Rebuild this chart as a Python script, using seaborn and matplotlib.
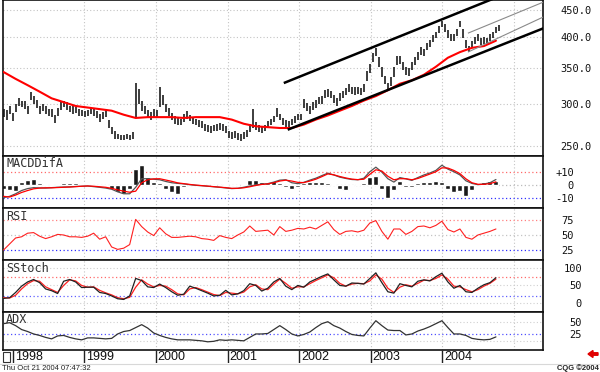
import numpy as np
import pandas as pd
import matplotlib
matplotlib.use("Agg")
import matplotlib.pyplot as plt
from matplotlib.patches import Rectangle
from matplotlib.lines import Line2D
from matplotlib.ticker import NullLocator, NullFormatter
import seaborn as sns

# ---------------- data ----------------
# half-monthly price bars, Nov 1997 .. Oct 2004
highs = [293, 292, 297, 288, 299, 307, 304, 303, 297, 315,
         310, 305, 297, 299, 297, 293, 293, 286, 294, 302,
         304, 302, 297, 297, 296, 293, 292, 291, 292, 295,
         293, 290, 287, 289, 293, 280, 271, 266, 263, 262,
         262, 263, 262, 265, 328, 320, 303, 297, 292, 289,
         293, 292, 322, 312, 299, 294, 288, 284, 282, 281,
         287, 291, 286, 283, 281, 279, 278, 275, 273, 272,
         274, 275, 276, 275, 272, 267, 265, 267, 264, 263,
         265, 268, 275, 293, 277, 273, 272, 274, 278, 281,
         285, 295, 287, 282, 279, 278, 281, 284, 287, 287,
         306, 301, 297, 302, 305, 309, 310, 318, 319, 317,
         311, 307, 314, 317, 321, 326, 323, 322, 323, 321,
         327, 345, 356, 373, 382, 367, 351, 338, 328, 336,
         351, 369, 368, 359, 352, 350, 359, 367, 375, 383,
         380, 390, 396, 403, 410, 419, 429, 423, 413, 405,
         406, 414, 429, 414, 396, 385, 393, 401, 405, 398,
         401, 398, 406, 410, 418, 421]
lows = [283, 280, 287, 278, 289, 297, 296, 293, 287, 305,
        300, 295, 287, 291, 287, 285, 283, 276, 284, 292,
        296, 292, 289, 287, 288, 285, 284, 283, 284, 287,
        285, 282, 277, 281, 283, 270, 263, 258, 257, 256,
        256, 257, 256, 257, 282, 300, 291, 287, 282, 280,
        283, 282, 296, 298, 289, 284, 279, 275, 274, 273,
        277, 281, 278, 275, 273, 271, 270, 267, 265, 264,
        266, 267, 268, 267, 264, 259, 257, 259, 256, 255,
        257, 260, 265, 270, 268, 265, 264, 266, 270, 273,
        277, 283, 279, 274, 271, 270, 273, 276, 279, 279,
        294, 291, 287, 292, 295, 299, 300, 308, 309, 307,
        301, 297, 304, 307, 311, 316, 313, 312, 313, 311,
        315, 331, 342, 359, 368, 351, 337, 326, 320, 324,
        337, 355, 356, 347, 340, 338, 347, 355, 363, 371,
        368, 378, 384, 391, 398, 407, 418, 409, 399, 393,
        394, 402, 418, 398, 382, 375, 381, 389, 393, 386,
        389, 386, 394, 398, 407, 411]

# moving average (every two months)
ma_values = [344, 334, 325, 316, 307, 302, 297, 295, 293, 291,
             286, 282, 283, 283, 283, 282, 283, 283, 283, 280,
             275, 272, 271, 270, 270, 274, 280, 285, 291, 297,
             304, 310, 318, 327, 332, 340, 352, 366, 375, 382,
             385, 394]

# monthly indicators
macd = [-10, -9, -7, -4.5, -3, -2.3, -2.5, -2.6, -2.3, -2,
        -1.8, -1.7, -1.4, -1.2, -1, -1.5, -2, -2.6, -3.5, -5.5,
        -7, -7, -2, 4.6, 4.6, 4.2, 3.8, 2.5, 1.5, 1,
        0.6, 0, -0.5, -0.8, -1.2, -1.6, -2, -2.5, -3, -2.8,
        -2, -1, -0.2, 0.4, 0.8, 2, 3.5, 3.8, 1.5, 0.8,
        1.8, 3.5, 5, 7, 8.9, 7.5, 5.8, 4.8, 4, 3.8,
        5, 10, 13.5, 9.7, 4.6, 2, 5.5, 4.5, 3.3, 5.5,
        7.5, 9, 11, 15, 12, 10, 7.5, 3, 1, 0,
        0.5, 1.5, 4]
signal = [-9, -9.5, -8, -6, -4.5, -3.2, -2.6, -2.4, -2.4, -2.2,
          -2, -1.8, -1.5, -1.2, -1, -1.2, -1.6, -2, -2.8, -4,
          -5, -5.8, -5, 1.5, 3.8, 4.5, 4.6, 3.6, 2.6, 1.4,
          0.8, 0.2, -0.3, -0.7, -1.1, -1.5, -1.9, -2.3, -2.8, -2.8,
          -2.4, -1.6, -0.6, 0.2, 0.6, 1.5, 2.8, 3.5, 2.8, 1.8,
          1.6, 2.8, 4.2, 6.2, 8.3, 7.6, 6.3, 5.2, 4.3, 3.9,
          4.2, 8, 11.5, 10.5, 6.5, 3.8, 4.6, 4.6, 3.8, 4.8,
          6.5, 8.2, 10, 13, 12.8, 11, 8.5, 4.5, 1.5, 0.3,
          0.3, 0.8, 2.2]
macd_hist = [-3, -4, -4.5, 2, 3.5, 4.5, 1, 0.3, 0.5, 0.8,
             1.5, 1.5, 1, 0.5, 0.3, -0.5, -1, -1, -3, -6,
             -7, -3, 12, 15, 6, 2, 1.5, -3, -6, -7,
             -2, -0.5, 0.5, 0.5, -0.3, -0.5, -0.5, 0.3, -0.5, -0.3,
             0.5, 3.5, 4, 2, 1.5, 2.5, 1.5, -2, -3, -2,
             1.5, 2, 2, 2, 1.5, 0.5, -3, -4, -1, 0.5,
             1, 6, 7, -3, -10, -4, 2.5, -1.5, -2, 1.5,
             2, 2, 2.5, 2, -3, -6, -5, -9, -4, 1,
             2, 2.5, 3]
rsi = [25, 35, 45, 47, 53, 54, 48, 44, 47, 51,
       50, 47, 47, 46, 48, 53, 43, 47, 30, 26,
       28, 34, 76, 64, 55, 49, 62, 52, 46, 46,
       47, 48, 47, 44, 43, 41, 49, 46, 44, 50,
       55, 65, 56, 57, 58, 50, 64, 56, 58, 61,
       60, 63, 60, 66, 72, 59, 51, 56, 57, 55,
       58, 70, 74, 56, 43, 60, 60, 51, 56, 64,
       65, 62, 66, 73, 59, 55, 60, 46, 43, 50,
       53, 56, 60]
stoch_k = [13, 15, 30, 48, 60, 67, 58, 40, 35, 27,
           62, 67, 60, 44, 45, 45, 30, 27, 20, 12,
           10, 20, 70, 64, 46, 44, 54, 44, 32, 22,
           25, 48, 42, 35, 28, 20, 22, 36, 23, 26,
           35, 55, 50, 34, 42, 60, 70, 48, 38, 50,
           45, 60, 68, 76, 83, 66, 50, 48, 57, 56,
           54, 70, 86, 58, 32, 28, 55, 50, 46, 62,
           66, 63, 75, 85, 60, 42, 50, 32, 30, 42,
           52, 58, 72]
stoch_d = [15, 14, 22, 40, 55, 64, 62, 46, 38, 30,
           50, 66, 63, 50, 45, 46, 36, 29, 23, 15,
           12, 16, 45, 66, 54, 46, 50, 48, 38, 26,
           23, 40, 44, 38, 31, 24, 21, 30, 28, 26,
           31, 46, 52, 40, 38, 54, 68, 56, 42, 46,
           46, 55, 64, 72, 80, 72, 56, 48, 54, 56,
           55, 63, 80, 68, 42, 30, 45, 52, 48, 56,
           65, 64, 70, 80, 68, 48, 46, 38, 32, 38,
           48, 56, 68]
adx = [46, 48, 42, 34, 30, 25, 22, 18, 15, 21,
       22, 18, 15, 13, 17, 17, 16, 15, 16, 25,
       30, 32, 38, 44, 37, 27, 22, 18, 15, 13,
       13, 13, 12, 11, 9, 10, 13, 12, 13, 12,
       11, 18, 25, 25, 26, 34, 42, 34, 25, 21,
       24, 29, 38, 46, 50, 42, 37, 30, 24, 22,
       21, 37, 52, 42, 33, 32, 32, 23, 25, 31,
       35, 40, 46, 52, 38, 25, 25, 22, 16, 14,
       13, 14, 19]

# trendlines (date, price endpoints)
upper_channel_dates = ["2001-10-14", "2005-06-01"]
upper_channel_prices = [328, 516]
lower_channel_dates = ["2001-11-03", "2005-06-01"]
lower_channel_prices = [268, 416]
thin_upper_dates = ["2004-05-10", "2005-06-01"]
thin_upper_prices = [407, 466]
thin_lower_dates = ["2004-05-10", "2005-06-01"]
thin_lower_prices = [375, 437]

years = ["1998", "1999", "2000", "2001", "2002", "2003", "2004"]
grid_years = ["1999", "2000", "2001", "2002", "2003", "2004", "2005"]
price_ticks = [250, 300, 350, 400, 450]
macd_ticks = [10, 0, -10]
macd_labels = ["+10", "0", "-10"]
rsi_ticks = [75, 50, 25]
stoch_ticks = [100, 50, 0]
adx_ticks = [50, 25]

# ---------------- dates ----------------
price_dates = pd.date_range("1997-11-15", "2004-10-15", periods=len(highs))
month_dates = pd.date_range("1997-11-15", "2004-09-30", periods=len(rsi))
ma_dates = pd.date_range("1997-11-15", "2004-09-30", periods=len(ma_values))
xmin, xmax = pd.Timestamp("1997-11-12"), pd.Timestamp("2005-05-28")

# ---------------- figure ----------------
sns.set_theme(style="white")
plt.rcParams["font.family"] = ["Liberation Sans", "DejaVu Sans"]
W, H = 600, 372
fig = plt.figure(figsize=(6, 3.72), dpi=100)
fig.patch.set_facecolor("white")


def add(top, bottom, left=3, right=543):
    return fig.add_axes([left / W, 1 - bottom / H, (right - left) / W, (bottom - top) / H])


DOT = (0, (1, 2))
MONO = "DejaVu Sans Mono"


def style_panel(ax, ymin, ymax, ticks, labels, pad_px, ha, label=None):
    ax.set_xlim(xmin, xmax)
    ax.set_ylim(ymin, ymax)
    ax.set_facecolor("white")
    ax.set_xticks([])
    ax.yaxis.tick_right()
    ax.set_yticks(ticks)
    ax.set_yticklabels(labels, fontfamily=MONO, fontsize=7.5, ha=ha, color="#111")
    ax.yaxis.set_minor_locator(NullLocator())
    ax.yaxis.set_minor_formatter(NullFormatter())
    ax.tick_params(axis="y", length=0, pad=pad_px * 0.72)
    ax.set_xlabel("")
    ax.set_ylabel("")
    for s in ax.spines.values():
        s.set_color("#111")
        s.set_linewidth(1.2)
    for g in grid_years:
        ax.axvline(pd.Timestamp(g + "-01-01"), color="#c4c4c4", lw=0.8, ls=DOT, zorder=0)
    if label:
        ax.text(0.006, 0.97, label, transform=ax.transAxes, va="top", ha="left",
                fontfamily=MONO, fontsize=8.5, color="#333")


# ---- main price panel ----
ax = add(0, 155.5)
ax.set_yscale("log")
style_panel(ax, 239.7, 469.9, price_ticks, [f"{v:.1f}" for v in price_ticks], 17, "left")
for v in price_ticks:
    ax.axhline(v, color="#c4c4c4", lw=0.8, ls=DOT, zorder=0)
ax.vlines(price_dates, lows, highs, color="#1c1c1c", lw=1.2, zorder=2)
sns.lineplot(x=ma_dates, y=ma_values, ax=ax, color="#ff0000", lw=1.5, zorder=3, legend=False)
for d, p, c, lw in [(upper_channel_dates, upper_channel_prices, "#000000", 1.8),
                    (lower_channel_dates, lower_channel_prices, "#000000", 1.8),
                    (thin_upper_dates, thin_upper_prices, "#8a8a8a", 0.8),
                    (thin_lower_dates, thin_lower_prices, "#8a8a8a", 0.8)]:
    ax.plot(pd.to_datetime(d), p, color=c, lw=lw, zorder=4, solid_capstyle="butt")
ax.set_xlim(xmin, xmax)
ax.set_ylim(239.7, 469.9)

# ---- MACD ----
ax = add(155.5, 208.3)
style_panel(ax, -18.2, 22.5, macd_ticks, macd_labels, 31, "right", "MACDDifA")
ax.axhline(10, color="#ff6a6a", lw=0.9, ls=DOT)
ax.axhline(0, color="#bbbbbb", lw=0.9, ls=DOT)
ax.axhline(-10, color="#3030ff", lw=0.9, ls=DOT)
ax.bar(month_dates, macd_hist, width=26, color="#1a1a1a", zorder=2)
sns.lineplot(x=month_dates, y=macd, ax=ax, color="#555555", lw=0.9, zorder=3, legend=False)
sns.lineplot(x=month_dates, y=signal, ax=ax, color="#ff0000", lw=0.9, zorder=4, legend=False)
ax.set_xlim(xmin, xmax)

# ---- RSI ----
ax = add(208.3, 260)
style_panel(ax, 8.3, 94.5, rsi_ticks, [str(v) for v in rsi_ticks], 31, "right", "RSI")
ax.axhline(75, color="#ff8080", lw=0.9, ls=DOT)
ax.axhline(50, color="#c4c4c4", lw=0.9, ls=DOT)
ax.axhline(25, color="#3030ff", lw=0.9, ls=DOT)
sns.lineplot(x=month_dates, y=rsi, ax=ax, color="#ff2020", lw=0.8, zorder=3, legend=False)
ax.set_xlim(xmin, xmax)

# ---- SStoch ----
ax = add(260, 311.7)
style_panel(ax, -25, 122.7, stoch_ticks, [str(v) for v in stoch_ticks], 39, "right", "SStoch")
ax.axhline(100, color="#d0d0d0", lw=0.8, ls=DOT)
ax.axhline(75, color="#ff6a6a", lw=0.9, ls=DOT)
ax.axhline(50, color="#d0d0d0", lw=0.8, ls=DOT)
ax.axhline(20, color="#6060ff", lw=0.9, ls=DOT)
ax.axhline(0, color="#d0d0d0", lw=0.8, ls=DOT)
sns.lineplot(x=month_dates, y=stoch_d, ax=ax, color="#ff2020", lw=0.9, zorder=3, legend=False)
sns.lineplot(x=month_dates, y=stoch_k, ax=ax, color="#222222", lw=0.9, zorder=4, legend=False)
ax.set_xlim(xmin, xmax)

# ---- ADX ----
ax = add(311.7, 350)
style_panel(ax, -7.7, 70.4, adx_ticks, [str(v) for v in adx_ticks], 39, "right", "ADX")
ax.axhline(50, color="#d0d0d0", lw=0.8, ls=DOT)
ax.axhline(25, color="#5050ff", lw=0.9, ls=DOT)
ax.axhline(10, color="#d0d0d0", lw=0.8, ls=DOT)
sns.lineplot(x=month_dates, y=adx, ax=ax, color="#333333", lw=0.9, zorder=3, legend=False)
ax.set_xlim(xmin, xmax)

# ---- date strip ----
ax = add(350, 362.5)
ax.set_xlim(xmin, xmax)
ax.set_ylim(0, 1)
ax.axis("off")
for y in years:
    d = pd.Timestamp(y + "-01-01")
    ax.vlines(d, 0, 1, color="#222", lw=1.0)
    ax.text(d + pd.Timedelta(days=9), 0.45, y, ha="left", va="center",
            fontsize=9, color="#111")
fig.add_artist(Rectangle((3 / W, 1 - 362 / H), 7 / W, 10 / H, transform=fig.transFigure,
                         fill=False, ec="#333", lw=0.8))
fig.add_artist(Line2D([0, 1], [1 - 363.5 / H, 1 - 363.5 / H], transform=fig.transFigure,
                      color="#d8d8d8", lw=0.8))

# ---- footer texts ----
fig.text(2 / W, 1 - 368 / H, "Thu Oct 21 2004 07:47:32", fontsize=5.5, ha="left",
         va="center", color="#222")
fig.text(599 / W, 1 - 368.5 / H, "CQG ©2004", fontsize=5.5, ha="right", va="center",
         color="#222", fontweight="bold")
fig.add_artist(matplotlib.patches.FancyArrow(598 / W, 1 - 354 / H, -10 / W, 0,
                                             width=2.5 / H, head_width=7 / H,
                                             head_length=5 / W, length_includes_head=True,
                                             transform=fig.transFigure, color="#e00000"))

fig.savefig("out.png", dpi=100, facecolor="white")
